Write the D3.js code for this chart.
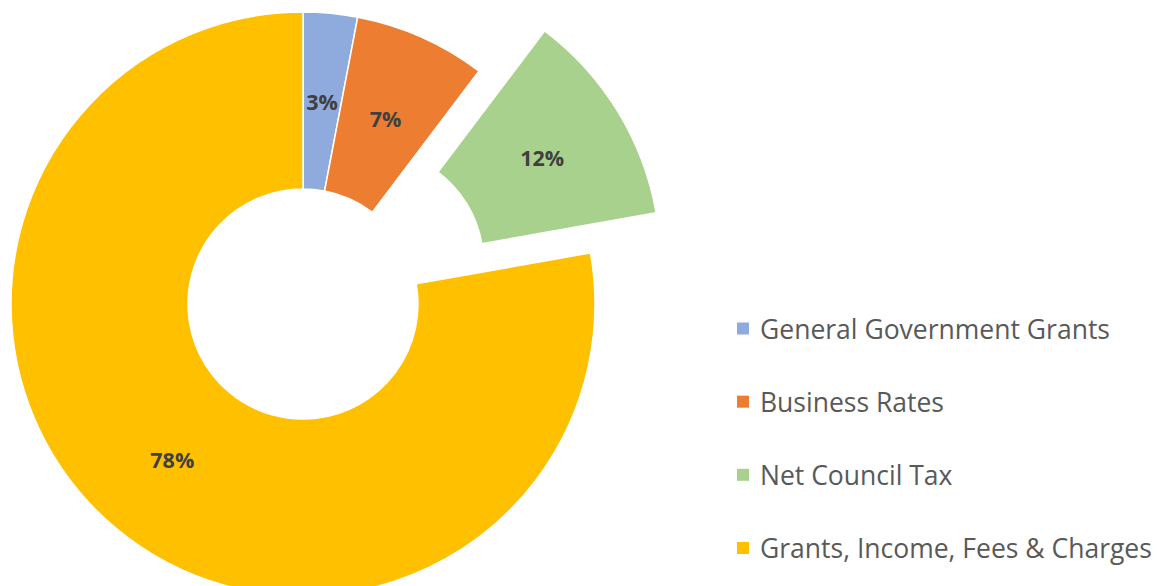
<!DOCTYPE html>
<html>
<head>
<meta charset="utf-8">
<script src="https://cdn.jsdelivr.net/npm/d3@7"></script>
<style>
	body { margin: 0; background: #fff; }
	svg { display: block; }
	.label { font-family: "Open Sans", sans-serif; font-weight: bold; font-size: 21.5px; fill: #404040; }
	.legend-text { font-family: "Open Sans", sans-serif; font-size: 26.5px; fill: #595959; }
</style>
</head>
<body>
<div id="chart"></div>
<script>
const categories = ['General Government Grants', 'Business Rates', 'Net Council Tax', 'Grants, Income, Fees & Charges'];
const values = [3.0, 7.3, 11.9, 77.8];
const colors = ['#8FAADC', '#ED7D31', '#A9D18E', '#FFC000'];
const exploded = [false, false, true, false];

const w = 1157;
const h = 586;
const cx = 303;
const cy = 304;
const outerR = 292;
const innerR = 115;
const explodeBy = 77;

const svg = d3.select('#chart')
	.append('svg')
	.attr('width', w)
	.attr('height', h);

const total = d3.sum(values);
const pie = d3.pie().sort(null).value(d => d.value);
const arcs = pie(values.map((v, i) => ({ value: v, name: categories[i], color: colors[i], exploded: exploded[i] })));

const arc = d3.arc()
	.innerRadius(innerR)
	.outerRadius(outerR);

const offset = (d) => {
	if (!d.data.exploded) return [0, 0];
	const mid = (d.startAngle + d.endAngle) / 2;
	return [Math.sin(mid) * explodeBy, -Math.cos(mid) * explodeBy];
};

const g = svg.append('g')
	.attr('transform', `translate(${cx}, ${cy})`);

const slices = g.selectAll('g.slice')
	.data(arcs)
	.enter()
	.append('g')
	.attr('class', 'slice')
	.attr('transform', d => `translate(${offset(d)[0]}, ${offset(d)[1]})`);

slices.append('path')
	.attr('d', arc)
	.attr('fill', d => d.data.color)
	.attr('stroke', '#fff')
	.attr('stroke-width', 1.5);

slices.append('text')
	.attr('class', 'label')
	.attr('x', d => arc.centroid(d)[0])
	.attr('y', d => arc.centroid(d)[1])
	.attr('text-anchor', 'middle')
	.attr('dominant-baseline', 'central')
	.text(d => Math.round(d.data.value / total * 100) + '%');

// legend
const legendY = d3.scalePoint()
	.domain(categories)
	.range([328.5, 548]);

const legend = svg.append('g')
	.selectAll('g')
	.data(categories)
	.enter()
	.append('g')
	.attr('transform', d => `translate(737, ${legendY(d)})`);

legend.append('rect')
	.attr('x', 0)
	.attr('y', -6)
	.attr('width', 12)
	.attr('height', 12)
	.attr('fill', (d, i) => colors[i]);

legend.append('text')
	.attr('class', 'legend-text')
	.attr('x', 23)
	.attr('y', 0)
	.attr('dominant-baseline', 'central')
	.text(d => d);
</script>
</body>
</html>
